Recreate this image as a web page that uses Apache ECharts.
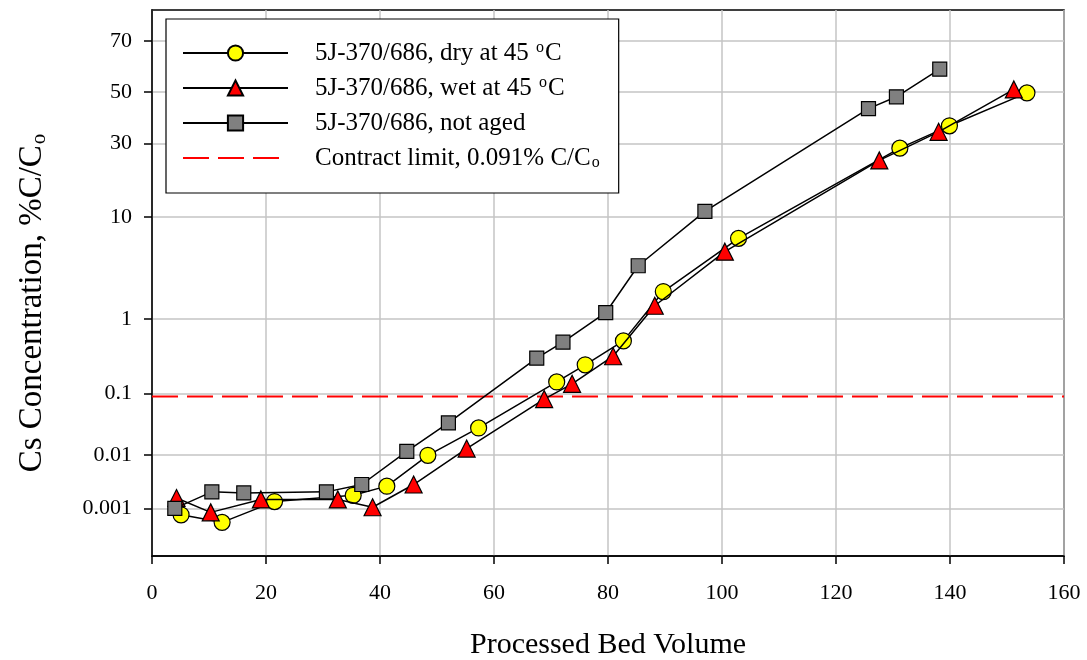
<!DOCTYPE html>
<html>
<head>
<meta charset="utf-8">
<script src="https://cdn.jsdelivr.net/npm/echarts@6/dist/echarts.min.js"></script>
<style>html,body{margin:0;padding:0;background:#fff;}#c{width:1087px;height:660px;}</style>
</head>
<body>
<div id="c"></div>
<script>
// ---- data (y values in % C/Co) ----
const dryX = [5.1, 12.3, 21.5, 35.3, 41.2, 48.4, 57.3, 71.0, 76.0, 82.7, 89.7, 102.9, 131.2, 139.9, 153.5];
const dryY = [0.00074, 0.00052, 0.00136, 0.0018, 0.0027, 0.0099, 0.029, 0.149, 0.26, 0.54, 2.05, 6.7, 28.3, 36.5, 49.7];
const wetX = [4.3, 10.3, 19.1, 32.6, 38.7, 45.9, 55.2, 68.8, 73.7, 80.9, 88.2, 100.5, 127.6, 138.0, 151.2];
const wetY = [0.0016, 0.00083, 0.0015, 0.0015, 0.00105, 0.0029, 0.013, 0.083, 0.14, 0.34, 1.43, 5.1, 24.2, 34.2, 51.1];
const agedX = [4.0, 10.5, 16.1, 30.6, 36.8, 44.7, 52.0, 67.5, 72.1, 79.6, 85.3, 97.0, 125.7, 130.6, 138.2];
const agedY = [0.0010, 0.0021, 0.0020, 0.0021, 0.0029, 0.0116, 0.035, 0.32, 0.52, 1.19, 3.76, 11.1, 43.3, 48.1, 59.3];
const limitY = 0.091;
const limitX = [0, 160];
const yTicks = [0.001, 0.01, 0.1, 1, 10, 30, 50, 70];
const yTickLabels = ['0.001', '0.01', '0.1', '1', '10', '30', '50', '70'];
const yRange = [0.0001, 80];
const seriesNames = ['5J-370/686, dry at 45 oC', '5J-370/686, wet at 45 oC', '5J-370/686, not aged', 'Contract limit, 0.091% C/Co'];

// inverse normal CDF (probability scale), percent in
function probit(pct) {
  const p = pct / 100;
  const a = [-3.969683028665376e+01, 2.209460984245205e+02, -2.759285104469687e+02, 1.383577518672690e+02, -3.066479806614716e+01, 2.506628277459239e+00];
  const b = [-5.447609879822406e+01, 1.615858368580409e+02, -1.556989798598866e+02, 6.680131188771972e+01, -1.328068155022803e+01];
  const c = [-7.784894002430293e-03, -3.223964580411365e-01, -2.400758277161838e+00, -2.549671071101160e+00, 4.374664141464968e+00, 2.938163982698783e+00];
  const d = [7.784695709041462e-03, 3.224671290700398e-01, 2.445134137142996e+00, 3.754408661907416e+00];
  const pl = 0.02425, ph = 1 - pl;
  let q, r;
  if (p < pl) {
    q = Math.sqrt(-2 * Math.log(p));
    return (((((c[0]*q+c[1])*q+c[2])*q+c[3])*q+c[4])*q+c[5]) / ((((d[0]*q+d[1])*q+d[2])*q+d[3])*q+1);
  } else if (p <= ph) {
    q = p - 0.5; r = q * q;
    return (((((a[0]*r+a[1])*r+a[2])*r+a[3])*r+a[4])*r+a[5])*q / (((((b[0]*r+b[1])*r+b[2])*r+b[3])*r+b[4])*r+1);
  } else {
    q = Math.sqrt(-2 * Math.log(1 - p));
    return -(((((c[0]*q+c[1])*q+c[2])*q+c[3])*q+c[4])*q+c[5]) / ((((d[0]*q+d[1])*q+d[2])*q+d[3])*q+1);
  }
}
const pairs = (xs, ys) => xs.map((x, i) => [x, probit(ys[i])]);
const yTickZ = yTicks.map(probit);

const FONT = '"Liberation Serif", "Times New Roman", serif';
const LH = 26;
const richBase = {
  t: { fontFamily: FONT, fontSize: 25, color: '#000', lineHeight: LH },
  sup: { fontFamily: FONT, fontSize: 16, color: '#000', lineHeight: LH, verticalAlign: 'top', padding: [0, 1, 10, 1] },
  sub: { fontFamily: FONT, fontSize: 16, color: '#000', lineHeight: LH, verticalAlign: 'bottom', padding: [9, 0, 0, 1] }
};
function legendFmt(name) {
  if (name.indexOf(' oC') >= 0) {
    const parts = name.split(' oC');
    return '{t|' + parts[0] + ' }{sup|o}{t|C}';
  }
  if (name.slice(-4) === 'C/Co') {
    return '{t|' + name.slice(0, -1) + '}{sub|o}';
  }
  return '{t|' + name + '}';
}

const chart = echarts.init(document.getElementById('c'), null, { renderer: 'canvas' });
const lineStyle = { color: '#000', width: 1.5 };
chart.setOption({
  animation: false,
  backgroundColor: '#fff',
  grid: { left: 152, right: 23, top: 10, bottom: 104, containLabel: false, outerBoundsMode: 'none',
    show: true, borderColor: '#000', borderWidth: 1.5, backgroundColor: 'transparent' },
  legend: {
    left: 166, top: 19,
    orient: 'vertical',
    itemWidth: 105, itemHeight: 19, itemGap: 9,
    padding: [21, 19, 22, 16],
    borderColor: '#000', borderWidth: 1.2, backgroundColor: '#fff',
    formatter: legendFmt,
    textStyle: { fontFamily: FONT, fontSize: 25, color: '#000', lineHeight: LH, padding: [0, 0, 0, 22], rich: richBase },
    data: [
      seriesNames[0], seriesNames[1], seriesNames[2],
      { name: seriesNames[3], itemStyle: { color: 'rgba(0,0,0,0)', borderWidth: 0, opacity: 0 } }
    ]
  },
  xAxis: {
    type: 'value', min: 0, max: 160, interval: 20,
    name: 'Processed Bed Volume', nameLocation: 'middle', nameGap: 74,
    nameTextStyle: { fontFamily: FONT, fontSize: 30, color: '#000' },
    axisLine: { show: true, onZero: false, lineStyle: { color: '#000', width: 1.5 } },
    axisTick: { show: true, inside: false, length: 8, lineStyle: { color: '#000', width: 1.5 } },
    axisLabel: { fontFamily: FONT, fontSize: 22, color: '#000', margin: 26 },
    splitLine: { show: true, lineStyle: { color: '#c4c4c4', width: 1.5 } }
  },
  yAxis: {
    type: 'value', min: probit(yRange[0]), max: probit(yRange[1]),
    name: '{t|Cs Concentration, %C/C}{s|o}', nameLocation: 'middle', nameGap: 102,
    nameTextStyle: { fontFamily: FONT, fontSize: 33, color: '#000', padding: [0, 40, 0, 0],
      rich: { t: { fontFamily: FONT, fontSize: 33, color: '#000', lineHeight: 36 }, s: { fontFamily: FONT, fontSize: 21, color: '#000', lineHeight: 36, verticalAlign: 'bottom', padding: [12, 0, 0, 1] } } },
    axisLine: { show: true, onZero: false, lineStyle: { color: '#000', width: 1.5 } },
    axisTick: { show: true, inside: false, length: 8, customValues: yTickZ, lineStyle: { color: '#000', width: 1.5 } },
    axisLabel: { fontFamily: FONT, fontSize: 22, color: '#000', margin: 20, customValues: yTickZ,
      formatter: function (v) {
        let best = 0, bd = Infinity;
        yTickZ.forEach((z, i) => { const dd = Math.abs(z - v); if (dd < bd) { bd = dd; best = i; } });
        return yTickLabels[best];
      } },
    splitLine: { show: true, lineStyle: { color: '#c4c4c4', width: 1.5 } }
  },
  series: [
    { name: seriesNames[3], type: 'line', data: limitX.map(x => [x, probit(limitY)]), symbol: 'none', z: 2,
      lineStyle: { color: '#ff0000', width: 2, type: [26, 9] }, itemStyle: { color: '#ff0000' } },
    { name: seriesNames[0], type: 'line', data: pairs(dryX, dryY), symbol: 'circle', symbolSize: 16, z: 3,
      lineStyle: lineStyle, itemStyle: { color: '#ffff00', borderColor: '#000', borderWidth: 1.2 } },
    { name: seriesNames[1], type: 'line', data: pairs(wetX, wetY), symbol: 'triangle', symbolSize: 17, z: 4,
      lineStyle: lineStyle, itemStyle: { color: '#ff0000', borderColor: '#000', borderWidth: 1.2 } },
    { name: seriesNames[2], type: 'line', data: pairs(agedX, agedY), symbol: 'rect', symbolSize: 14, z: 5,
      lineStyle: lineStyle, itemStyle: { color: '#808080', borderColor: '#000', borderWidth: 1.2 } }
  ]
});
</script>
</body>
</html>
